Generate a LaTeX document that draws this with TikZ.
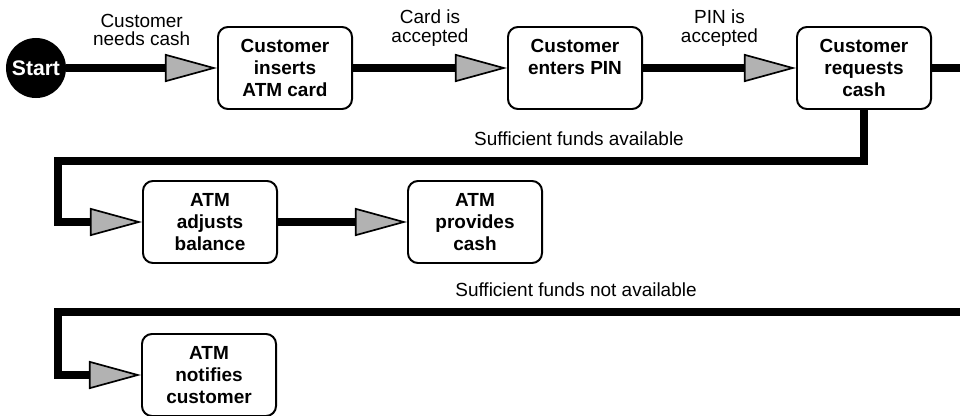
\documentclass[tikz,border=0pt]{standalone}
\usepackage{fontspec}
\setmainfont{Liberation Sans}
\usetikzlibrary{arrows.meta}

\begin{document}
\begin{tikzpicture}[
  x=0.025cm, y=-0.025cm,
  stepbox/.style={
    draw, line width=1.4pt, rounded corners=0.25cm,
    minimum width=3.35cm, minimum height=2.05cm,
    align=center, font=\fontsize{13.5}{15.5}\selectfont\bfseries,
  },
  flow/.style={line width=0.2cm},
  flowarrow/.style={
    flow,
    -{Triangle[length=1.3cm, width=0.7cm, line width=1.2pt, fill=gray!60]},
  },
  lbl/.style={align=center, inner sep=0pt, font=\fontsize{13.5}{13}\selectfont},
  ]
  \useasboundingbox (0,0) rectangle (960,415);
  % first row
  \node[circle, fill=black, text=white, minimum size=1.5cm, inner sep=0pt,
        font=\fontsize{15}{15}\selectfont\bfseries] (start) at (36,68) {Start};
  \node[stepbox] (card) at (285,68) {Customer\\inserts\\ATM card};
  \node[stepbox] (pin) at (575,68) {Customer\\enters PIN\\\mbox{}};
  \node[stepbox] (request) at (864,68) {Customer\\requests\\cash};
  % second and third row
  \node[stepbox] (adjust) at (210,222) {ATM\\adjusts\\balance};
  \node[stepbox] (provide) at (475,222) {ATM\\provides\\cash};
  \node[stepbox] (notify) at (209,375) {ATM\\notifies\\customer};

  \coordinate (availL) at (58,161);
  \coordinate (offR1) at (960,68);
  \coordinate (offR2) at (960,312);
  \coordinate (lackL) at (58,312);

  \draw[flowarrow] (start) -- node[lbl, above=0.45cm] {Customer\\needs cash} (card);
  \draw[flowarrow] (card) -- node[lbl, above=0.45cm] {Card is\\accepted} (pin);
  \draw[flowarrow] (pin) -- node[lbl, above=0.45cm] {PIN is\\accepted} (request);
  \draw[flow] (request.east) -- (offR1);
  % funds available
  \draw[flowarrow] (request.south) |- (availL) |- (adjust.west);
  \node[lbl] (availtxt) at (579,139) {Sufficient funds available};
  \draw[flowarrow] (adjust) -- (provide);
  % funds not available
  \draw[flowarrow] (offR2) -- (lackL) |- (notify.west);
  \node[lbl] (lacktxt) at (576,290) {Sufficient funds not available};
\end{tikzpicture}
\end{document}
